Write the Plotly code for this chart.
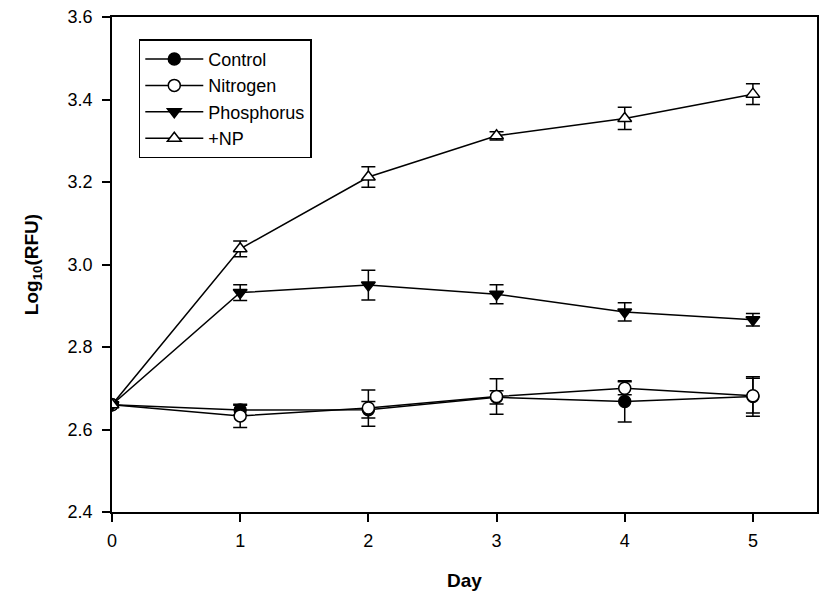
import plotly.graph_objects as go

days = [0, 1, 2, 3, 4, 5]
control = [2.660, 2.647, 2.648, 2.678, 2.668, 2.680]
control_err = [0.004, 0.012, 0.020, 0.016, 0.050, 0.048]
nitrogen = [2.660, 2.633, 2.652, 2.680, 2.700, 2.682]
nitrogen_err = [0.004, 0.028, 0.044, 0.043, 0.016, 0.042]
phosphorus = [2.660, 2.932, 2.950, 2.928, 2.885, 2.866]
phosphorus_err = [0.004, 0.019, 0.036, 0.023, 0.022, 0.015]
np_plus = [2.660, 3.038, 3.212, 3.312, 3.354, 3.413]
np_plus_err = [0.004, 0.019, 0.025, 0.010, 0.027, 0.025]

series = [
    ("Control", control, control_err, "circle", "black"),
    ("Nitrogen", nitrogen, nitrogen_err, "circle", "white"),
    ("Phosphorus", phosphorus, phosphorus_err, "triangle-down", "black"),
    ("+NP", np_plus, np_plus_err, "triangle-up", "white"),
]

fig = go.Figure()
for name, vals, errs, sym, fill in series:
    fig.add_trace(go.Scatter(
        x=days, y=vals, name=name, mode="lines+markers",
        line=dict(color="black", width=1.5),
        marker=dict(symbol=sym, size=12, color=fill,
                    line=dict(color="black", width=1.5)),
        error_y=dict(type="data", array=errs, visible=True,
                     color="black", thickness=1.5, width=7),
    ))

font_family = "Liberation Sans, Arial, sans-serif"
fig.update_layout(
    width=819, height=595,
    margin=dict(l=112, r=2, t=17, b=83, autoexpand=False),
    paper_bgcolor="white", plot_bgcolor="white",
    font=dict(family=font_family, size=18, color="black"),
    showlegend=True,
    legend=dict(
        x=0.038, y=0.955, xanchor="left", yanchor="top",
        bgcolor="white", bordercolor="black", borderwidth=1.5,
        font=dict(size=18, color="black"),
        itemwidth=58,
        tracegroupgap=0,
    ),
    xaxis=dict(
        range=[0, 5.5], tickvals=days, ticktext=[str(d) for d in days],
        automargin=False,
        showgrid=False, zeroline=False, showline=True, linecolor="black",
        linewidth=1.5, mirror=True, ticks="outside", ticklen=8,
        tickwidth=1.5, tickcolor="black", ticklabelstandoff=4,
        title=dict(text="<b>Day</b>", font=dict(size=19), standoff=23),
    ),
    yaxis=dict(
        range=[2.4, 3.6], tickvals=[2.4, 2.6, 2.8, 3.0, 3.2, 3.4, 3.6],
        tickformat=".1f", automargin=False,
        showgrid=False, zeroline=False, showline=True, linecolor="black",
        linewidth=1.5, mirror=True, ticks="outside", ticklen=8,
        tickwidth=1.5, tickcolor="black", ticklabelstandoff=6,
        title=dict(text="<b>Log<sub>10</sub>(RFU)</b>", font=dict(size=19), standoff=24),
    ),
)

post = (
    "document.body.style.margin='0px';"
    "document.body.style.overflow='hidden';"
    "Plotly.relayout('{plot_id}', {width: 819, height: 595});"
)
fig.write_html("out.html", post_script=post,
               config={"displayModeBar": False, "responsive": False})
